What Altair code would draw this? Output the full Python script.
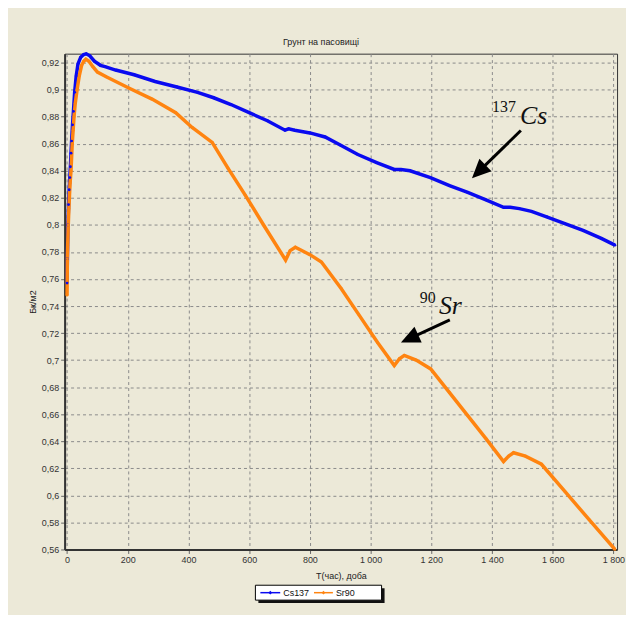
import altair as alt
import pandas as pd

# ---- data ----
cs_days = [0, 1, 3, 5, 7, 9, 11, 13, 15, 18, 21, 25, 30, 36, 45, 55, 63, 75, 90, 110, 125, 160,
           221, 290, 362, 430, 483, 540, 600, 660, 718, 730, 750, 800, 850, 900, 958, 1020, 1078,
           1100, 1130, 1197, 1260, 1320, 1380, 1438, 1460, 1490, 1530, 1580, 1640, 1700, 1760, 1805]
cs_vals = [0.757, 0.775, 0.800, 0.815, 0.826, 0.835, 0.843, 0.853, 0.862, 0.874, 0.884, 0.898, 0.910,
           0.919, 0.924, 0.926, 0.9265, 0.925, 0.921, 0.918, 0.917, 0.9145, 0.911, 0.906, 0.902, 0.898,
           0.894, 0.889, 0.883, 0.877, 0.870, 0.871, 0.870, 0.868, 0.865, 0.859, 0.852, 0.846, 0.841,
           0.841, 0.840, 0.835, 0.829, 0.824, 0.8185, 0.813, 0.813, 0.812, 0.810, 0.806, 0.801, 0.796,
           0.790, 0.785]

sr_days = [0, 1, 2, 4, 6, 8, 10, 13, 17, 20, 23, 27, 33, 40, 48, 55, 62, 72, 85, 100, 129, 205,
           280, 358, 412, 478, 530, 587, 650, 720, 735, 752, 800, 838, 903, 960, 1023, 1078, 1095,
           1111, 1150, 1198, 1260, 1320, 1380, 1438, 1455, 1471, 1510, 1563, 1640, 1720, 1805]
sr_vals = [0.748, 0.775, 0.785, 0.800, 0.812, 0.822, 0.831, 0.840, 0.860, 0.870, 0.880, 0.890, 0.900,
           0.910, 0.918, 0.921, 0.9225, 0.921, 0.917, 0.913, 0.9095, 0.901, 0.893, 0.883, 0.872, 0.861,
           0.842, 0.822, 0.799, 0.774, 0.781, 0.7835, 0.778, 0.7725, 0.753, 0.734, 0.713, 0.696, 0.701,
           0.7035, 0.700, 0.6935, 0.676, 0.659, 0.642, 0.625, 0.629, 0.6315, 0.629, 0.623, 0.603, 0.582,
           0.560]

series_names = ["Cs137", "Sr90"]
series_colors = ["#0A0AF0", "#FF8410"]

x_ticks = [0, 200, 400, 600, 800, 1000, 1200, 1400, 1600, 1800]
y_ticks = [0.56, 0.58, 0.60, 0.62, 0.64, 0.66, 0.68, 0.70, 0.72, 0.74, 0.76, 0.78, 0.80,
           0.82, 0.84, 0.86, 0.88, 0.90, 0.92]

title_text = "Грунт на пасовищі"
x_title = "T(час), доба"
y_title = "Бк/м2"

# annotation labels (in data coordinates)
ann_sup = ["137", "90"]
ann_main = ["Cs", "Sr"]
ann_sup_day = [1400, 1162]
ann_sup_val = [0.8836, 0.7422]
ann_main_day = [1492, 1225]
ann_main_val = [0.8744, 0.7339]
arrow_start_day = [1495, 1261]
arrow_start_val = [0.8698, 0.7297]
arrow_base_day = [1362, 1135]
arrow_base_val = [0.8407, 0.7167]
arrow_tip_day = [1334, 1100]
arrow_tip_val = [0.8345, 0.7130]
arrow_angle = [225.6, 245.3]

# ---- tables ----
df = pd.concat([
    pd.DataFrame({"day": cs_days, "val": cs_vals, "series": series_names[0]}),
    pd.DataFrame({"day": sr_days, "val": sr_vals, "series": series_names[1]}),
])
ann = pd.DataFrame({
    "sup": ann_sup, "main": ann_main,
    "sd": ann_sup_day, "sv": ann_sup_val,
    "md": ann_main_day, "mv": ann_main_val,
    "ad1": arrow_start_day, "av1": arrow_start_val,
    "ab": arrow_base_day, "abv": arrow_base_val,
    "at": arrow_tip_day, "atv": arrow_tip_val,
    "ang": arrow_angle,
})
one = pd.DataFrame({"k": [0]})

XDOM = [-8, 1812]
YDOM = [0.56, 0.9266]

xscale = alt.Scale(domain=XDOM, nice=False, zero=False)
yscale = alt.Scale(domain=YDOM, nice=False, zero=False)

common_axis = dict(
    grid=True, gridDash=[3, 3], gridColor="#8a8a8a", gridOpacity=1,
    domainColor="#333333", domainWidth=2, tickColor="#666666", tickSize=4,
    labelFont="Liberation Sans", labelFontSize=9, labelColor="#333333", labelPadding=2,
    labelOverlap=False,
    titleFont="Liberation Sans", titleFontSize=9, titleFontWeight="normal", titleColor="#222222",
)
x_axis = alt.Axis(
    values=x_ticks, title=x_title,
    labelExpr="replace(format(datum.value, ','), ',', ' ')",
    titlePadding=7, **common_axis,
)
y_axis = alt.Axis(
    values=y_ticks, title=y_title,
    labelExpr="replace(format(datum.value, '.2~f'), '.', ',')",
    titlePadding=4, **common_axis,
)


def X(field):
    return alt.X(field, type="quantitative", scale=xscale, axis=x_axis)


def Y(field):
    return alt.Y(field, type="quantitative", scale=yscale, axis=y_axis)


lines = alt.Chart(df).mark_line(
    strokeWidth=3.5, point=alt.OverlayMarkDef(size=8, filled=True)
).encode(
    x=X("day"),
    y=Y("val"),
    color=alt.Color(
        "series:N",
        scale=alt.Scale(domain=series_names, range=series_colors),
        legend=None,
    ),
    order="day:Q",
)

# ---- hand-drawn legend box (below the plot) ----
leg_shadow = alt.Chart(one).mark_rect(color="#111111").encode(
    x=alt.value(195), x2=alt.value(322), y=alt.value(538), y2=alt.value(553)
)
leg_box = alt.Chart(one).mark_rect(fill="white", stroke="black", strokeWidth=1).encode(
    x=alt.value(192), x2=alt.value(319), y=alt.value(535), y2=alt.value(550)
)
leg_parts = []
for i, (x0, x1, xl) in enumerate([(197, 217, 220), (251, 270, 273)]):
    leg_parts.append(alt.Chart(one).mark_rule(color=series_colors[i], strokeWidth=1.5).encode(
        x=alt.value(x0), x2=alt.value(x1), y=alt.value(542.5)))
    leg_parts.append(alt.Chart(one).mark_point(
        shape="diamond", filled=True, color=series_colors[i], size=14, opacity=1).encode(
        x=alt.value((x0 + x1) / 2), y=alt.value(542.5)))
    leg_parts.append(alt.Chart(one).mark_text(
        align="left", baseline="middle", font="Liberation Sans", fontSize=9, color="#111111").encode(
        x=alt.value(xl), y=alt.value(543), text=alt.value(series_names[i])))

sup_text = alt.Chart(ann).mark_text(
    align="left", baseline="alphabetic", font="Liberation Serif", fontSize=16, color="#111111"
).encode(x=X("sd"), y=Y("sv"), text="sup:N")

main_text = alt.Chart(ann).mark_text(
    align="left", baseline="alphabetic", font="Liberation Serif", fontSize=26,
    fontStyle="italic", color="#111111"
).encode(x=X("md"), y=Y("mv"), text="main:N")

arrow_line = alt.Chart(ann).mark_rule(strokeWidth=3, color="black").encode(
    x=X("ad1"), y=Y("av1"), x2="ab:Q", y2="abv:Q",
)

arrow_head = alt.Chart(ann).mark_point(
    shape="M0,0L-0.55,1.2L0.55,1.2Z", filled=True, color="black", opacity=1, size=1000
).encode(
    x=X("at"), y=Y("atv"),
    angle=alt.Angle("ang:Q", scale=None),
)

chart = alt.layer(lines, arrow_line, arrow_head, sup_text, main_text,
                  leg_shadow, leg_box, *leg_parts).properties(
    width=556, height=499,
    title=alt.TitleParams(
        title_text, font="Liberation Sans", fontSize=9, fontWeight="normal", color="#222222",
        anchor="middle", dx=-20, offset=0,
    ),
    background="#ECE9D8",
    autosize=alt.AutoSizeParams(type="none"),
    padding={"left": 57, "top": 44, "right": 9, "bottom": 64},
).configure_view(stroke="#333333", strokeWidth=1, fill="#ECE9D8")

chart.save("out.html", embed_options={"renderer": "svg", "actions": False})
